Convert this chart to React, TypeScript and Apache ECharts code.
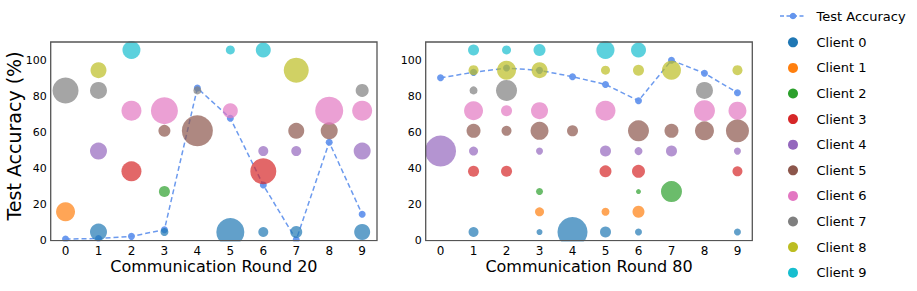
import React, { useEffect, useRef } from "react";
import * as echarts from "echarts";

// ---------- data ----------
const ROUNDS = [0, 1, 2, 3, 4, 5, 6, 7, 8, 9];
const CLIENT_NAMES = ["Client 0", "Client 1", "Client 2", "Client 3", "Client 4", "Client 5", "Client 6", "Client 7", "Client 8", "Client 9"];
const CLIENT_COLORS = ["#1f77b4", "#ff7f0e", "#2ca02c", "#d62728", "#9467bd", "#8c564b", "#e377c2", "#7f7f7f", "#bcbd22", "#17becf"];
// vertical level (in % units) where each client's bubbles sit
const CLIENT_LEVELS = [4.8, 16, 27.2, 38.4, 49.6, 60.8, 72, 83.2, 94.4, 105.6];

const ACC_ROUND20 = [0.9, 1.2, 2.4, 6.1, 84.5, 67.8, 30.8, 0.5, 54.5, 14.6];
const ACC_ROUND80 = [90.2, 93.2, 95.6, 94.3, 90.8, 86.5, 77.5, 99.9, 92.7, 81.9];

// bubble weights per client (rows) and per client index on x (columns), 0 = absent
const WEIGHTS_ROUND20 = [
  [0, 17, 0, 8, 0, 28, 10, 12, 0, 16],
  [19, 0, 0, 0, 0, 0, 0, 0, 0, 0],
  [0, 0, 0, 11, 0, 0, 0, 0, 0, 0],
  [0, 0, 20, 0, 0, 0, 26, 0, 0, 0],
  [0, 17, 0, 0, 0, 0, 10, 10, 0, 17],
  [0, 0, 0, 12, 31, 0, 0, 16, 17, 0],
  [0, 0, 20, 27, 0, 15, 0, 0, 28, 20],
  [26, 17, 0, 0, 8, 0, 0, 0, 0, 13],
  [0, 16, 0, 0, 0, 0, 0, 25, 0, 0],
  [0, 0, 18, 0, 0, 9, 15, 0, 0, 0],
];
const WEIGHTS_ROUND80 = [
  [0, 10, 0, 6, 30, 11, 7, 0, 0, 7],
  [0, 0, 0, 9, 0, 8, 12, 0, 0, 0],
  [0, 0, 0, 7, 0, 0, 5, 21, 0, 0],
  [0, 11, 11, 0, 0, 12, 13, 0, 0, 10],
  [31, 9, 0, 7, 0, 11, 8, 11, 0, 7],
  [0, 14, 10, 18, 11, 0, 21, 14, 19, 23],
  [0, 19, 11, 17, 0, 20, 0, 0, 21, 18],
  [0, 8, 21, 0, 0, 0, 0, 0, 17, 0],
  [0, 10, 19, 16, 0, 9, 11, 19, 0, 10],
  [0, 11, 9, 12, 0, 18, 15, 0, 0, 0],
];

const X_TITLES = ["Communication Round 20", "Communication Round 80"];
const Y_TITLE = "Test Accuracy (%)";
const LINE_NAME = "Test Accuracy";

// ---------- layout ----------
const FONT = "DejaVu Sans";
const GRIDS = [
  { left: 50.7, top: 42, width: 326.3, height: 198.7 },
  { left: 425.7, top: 42, width: 326.6, height: 198.7 },
];
const ACC_COLOR = "#6495ED";

function buildOption() {
  const accs = [ACC_ROUND20, ACC_ROUND80];
  const weights = [WEIGHTS_ROUND20, WEIGHTS_ROUND80];
  const series: any[] = [];
  for (let g = 0; g < 2; g++) {
    series.push({
      type: "line",
      name: LINE_NAME,
      xAxisIndex: g,
      yAxisIndex: g,
      data: ROUNDS.map((r, i) => [r, accs[g][i]]),
      symbol: "circle",
      symbolSize: 7,
      itemStyle: { color: ACC_COLOR, opacity: 0.95 },
      lineStyle: { color: ACC_COLOR, width: 1.5, type: [5, 3], opacity: 0.95 },
      z: 2,
    });
    for (let c = 0; c < CLIENT_NAMES.length; c++) {
      const data: number[][] = [];
      ROUNDS.forEach((r, i) => {
        const w = weights[g][c][i];
        if (w > 0) data.push([r, CLIENT_LEVELS[c], w]);
      });
      series.push({
        type: "scatter",
        name: CLIENT_NAMES[c],
        xAxisIndex: g,
        yAxisIndex: g,
        data,
        symbolSize: (v: number[]) => v[2],
        itemStyle: { color: CLIENT_COLORS[c], opacity: 0.7 },
        z: 3,
      });
    }
  }

  const graphics: any[] = [];
  // clip bubbles below the x axis
  GRIDS.forEach((gr) => {
    graphics.push({
      type: "rect",
      shape: { x: gr.left - 2, y: gr.top + gr.height + 0.8, width: gr.width + 4, height: 8 },
      style: { fill: "#ffffff" },
      z: 11,
      silent: true,
    });
  });
  X_TITLES.forEach((t, g) => {
    graphics.push({
      type: "text",
      x: GRIDS[g].left + GRIDS[g].width / 2,
      y: 266,
      style: { text: t, font: `16px '${FONT}'`, fill: "#000", textAlign: "center", textVerticalAlign: "middle" },
      z: 20,
    });
  });
  graphics.push({
    type: "text",
    x: 13.5,
    y: 136,
    rotation: Math.PI / 2,
    style: { text: Y_TITLE, font: `19px '${FONT}'`, fill: "#000", textAlign: "center", textVerticalAlign: "middle" },
    z: 20,
  });
  // legend
  const LX = 793;
  const TX = 816.5;
  graphics.push({
    type: "line",
    shape: { x1: 780, y1: 16, x2: 805, y2: 16 },
    style: { stroke: ACC_COLOR, lineWidth: 1.5, lineDash: [4, 2.5] },
    z: 20,
  });
  graphics.push({ type: "circle", shape: { cx: LX, cy: 16, r: 3.3 }, style: { fill: ACC_COLOR }, z: 21 });
  graphics.push({
    type: "text",
    x: TX,
    y: 16,
    style: { text: LINE_NAME, font: `13px '${FONT}'`, fill: "#000", textVerticalAlign: "middle" },
    z: 20,
  });
  CLIENT_NAMES.forEach((n, c) => {
    const y = 42.3 + c * 25.6;
    graphics.push({ type: "circle", shape: { cx: LX, cy: y, r: 5 }, style: { fill: CLIENT_COLORS[c] }, z: 20 });
    graphics.push({
      type: "text",
      x: TX,
      y,
      style: { text: n, font: `13px '${FONT}'`, fill: "#000", textVerticalAlign: "middle" },
      z: 20,
    });
  });

  return {
    animation: false,
    backgroundColor: "#ffffff",
    textStyle: { fontFamily: FONT },
    grid: GRIDS.map((g) => ({
      ...g,
      show: true,
      borderColor: "#555555",
      borderWidth: 1.3,
      backgroundColor: "transparent",
      z: 10,
    })),
    xAxis: GRIDS.map((_, g) => ({
      type: "value",
      gridIndex: g,
      min: -0.45,
      max: 9.45,
      axisLine: { show: false },
      axisTick: { show: false },
      splitLine: { show: false },
      axisLabel: {
        customValues: ROUNDS,
        fontSize: 12,
        color: "#000",
        margin: 4,
        fontFamily: FONT,
        showMinLabel: true,
        showMaxLabel: true,
      },
      z: 12,
    })),
    yAxis: GRIDS.map((_, g) => ({
      type: "value",
      gridIndex: g,
      min: 0,
      max: 110,
      interval: 20,
      axisLine: { show: false },
      axisTick: { show: false },
      splitLine: { show: false },
      axisLabel: {
        fontSize: 11,
        color: "#000",
        margin: 4,
        fontFamily: FONT,
        showMaxLabel: false,
        formatter: (v: number) => (v % 20 === 0 && v <= 100 ? String(v) : ""),
      },
      z: 12,
    })),
    graphic: graphics,
    series,
  };
}

export default function App() {
  const ref = useRef<HTMLDivElement>(null);
  useEffect(() => {
    if (!ref.current) return;
    const chart = echarts.init(ref.current, undefined, { renderer: "svg" });
    chart.setOption(buildOption() as any);
    return () => chart.dispose();
  }, []);
  return <div ref={ref} style={{ width: 917, height: 291, position: "absolute", left: 0, top: 0 }} />;
}
